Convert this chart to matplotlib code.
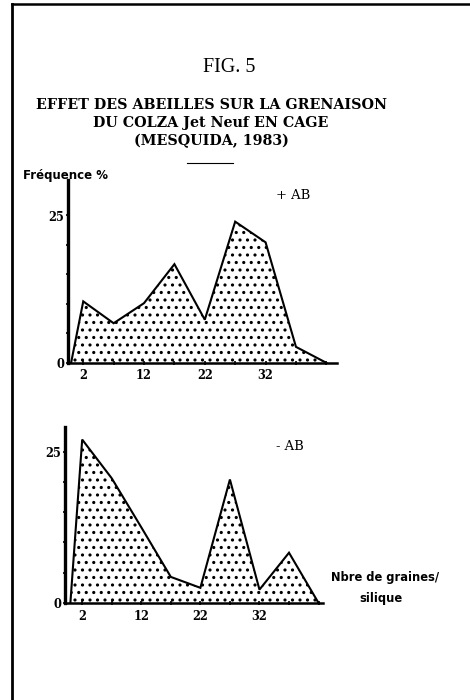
import matplotlib
matplotlib.use("Agg")
import matplotlib.pyplot as plt
from matplotlib.lines import Line2D

# classes of seeds per pod (class centres) and frequency %
graines = [0, 2, 7, 12, 17, 22, 27, 32, 37, 42]
freq_avec_ab = [0, 10.4, 6.7, 10.1, 16.7, 7.3, 23.9, 20.4, 2.7, 0]
freq_sans_ab = [0, 27.0, 20.6, 12.5, 4.3, 2.5, 20.4, 2.2, 8.3, 0]
xticks_lab = [2, 12, 22, 32]
yticks_lab = [0, 25]

W, H = 470, 700
DPI = 90          # dpi chosen so the '..' hatch gives the dot spacing of the scan
S = 100 / DPI     # keep sizes as if drawn at 100 dpi

plt.rcParams['hatch.linewidth'] = 1.2 * S
plt.rcParams['hatch.color'] = 'black'

fig = plt.figure(figsize=((W + 0.4) / DPI, (H + 0.4) / DPI), dpi=DPI)


def fx(x):
    return x / W


def fy(y):
    return 1 - y / H


def box(x0, y0, x1, y1):
    # pixel box -> figure fraction rect
    return [fx(x0), fy(y1), fx(x1) - fx(x0), fy(y0) - fy(y1)]


serif = 'DejaVu Serif'
times = 'Liberation Serif'
sans = 'DejaVu Sans'


def panel(rect, xs, ys, xlim, ylim):
    ax = fig.add_axes(rect)
    ax.fill_between(xs, ys, 0, facecolor='white', edgecolor='black',
                    hatch='..', linewidth=0)
    ax.plot(xs, ys, color='black', lw=1.5 * S, solid_joinstyle='miter')
    ax.set_xlim(*xlim)
    ax.set_ylim(*ylim)
    for s in ['top', 'right']:
        ax.spines[s].set_visible(False)
    ax.spines['left'].set_linewidth(2.4 * S)
    ax.spines['bottom'].set_linewidth(1.8 * S)
    ax.set_xticks(range(2, 43, 5))
    ax.set_xticklabels([str(t) if t in xticks_lab else '' for t in range(2, 43, 5)],
                       fontfamily=serif, fontweight='bold', fontsize=8.3 * S)
    ax.set_yticks(range(0, 30, 5))
    ax.set_yticklabels([str(t) if t in yticks_lab else '' for t in range(0, 30, 5)],
                       fontfamily=serif, fontweight='bold', fontsize=8.3 * S)
    ax.tick_params(axis='x', length=3 * S, width=1.2 * S, pad=3 * S, direction='inout')
    ax.tick_params(axis='y', length=3 * S, width=1.2 * S, pad=1 * S, direction='inout')
    ax.patch.set_alpha(0)
    return ax


ax1 = panel(box(68, 180, 337, 363), graines, freq_avec_ab, (-0.5, 43.8), (0, 31))
ax2 = panel(box(65, 427, 323, 603), graines, freq_sans_ab, (-0.9, 42.8), (0, 29.1))

# frame of the page
fig.add_artist(Line2D([fx(12), fx(12)], [fy(4), 0], color='black', lw=2 * S))
fig.add_artist(Line2D([fx(12), 1], [fy(4), fy(4)], color='black', lw=1.8 * S))

fig.text(fx(229), fy(67), 'FIG. 5', ha='center', va='center',
         fontfamily=times, fontsize=14.5 * S)
fig.text(fx(211), fy(105), 'EFFET DES ABEILLES SUR LA GRENAISON', ha='center',
         va='center', fontfamily=serif, fontweight='bold', fontsize=10.3 * S)
fig.text(fx(211), fy(123), 'DU COLZA Jet Neuf EN CAGE', ha='center',
         va='center', fontfamily=serif, fontweight='bold', fontsize=10.3 * S)
fig.text(fx(211), fy(141), '(MESQUIDA, 1983)', ha='center',
         va='center', fontfamily=serif, fontweight='bold', fontsize=10.3 * S)
fig.add_artist(Line2D([fx(187), fx(233)], [fy(163), fy(163)], color='black', lw=0.8 * S))

fig.text(fx(23), fy(175), 'Fréquence %', ha='left', va='center',
         fontfamily=sans, fontweight='bold', fontsize=8.5 * S)
fig.text(fx(293), fy(195), '+ AB', ha='center', va='center',
         fontfamily=serif, fontsize=9.5 * S)
fig.text(fx(290), fy(446), '- AB', ha='center', va='center',
         fontfamily=serif, fontsize=9.5 * S)
fig.text(fx(385), fy(577), 'Nbre de graines/', ha='center', va='center',
         fontfamily=sans, fontweight='bold', fontsize=8.3 * S)
fig.text(fx(381), fy(598), 'silique', ha='center', va='center',
         fontfamily=sans, fontweight='bold', fontsize=8.3 * S)

fig.savefig('out.png', dpi=DPI)
